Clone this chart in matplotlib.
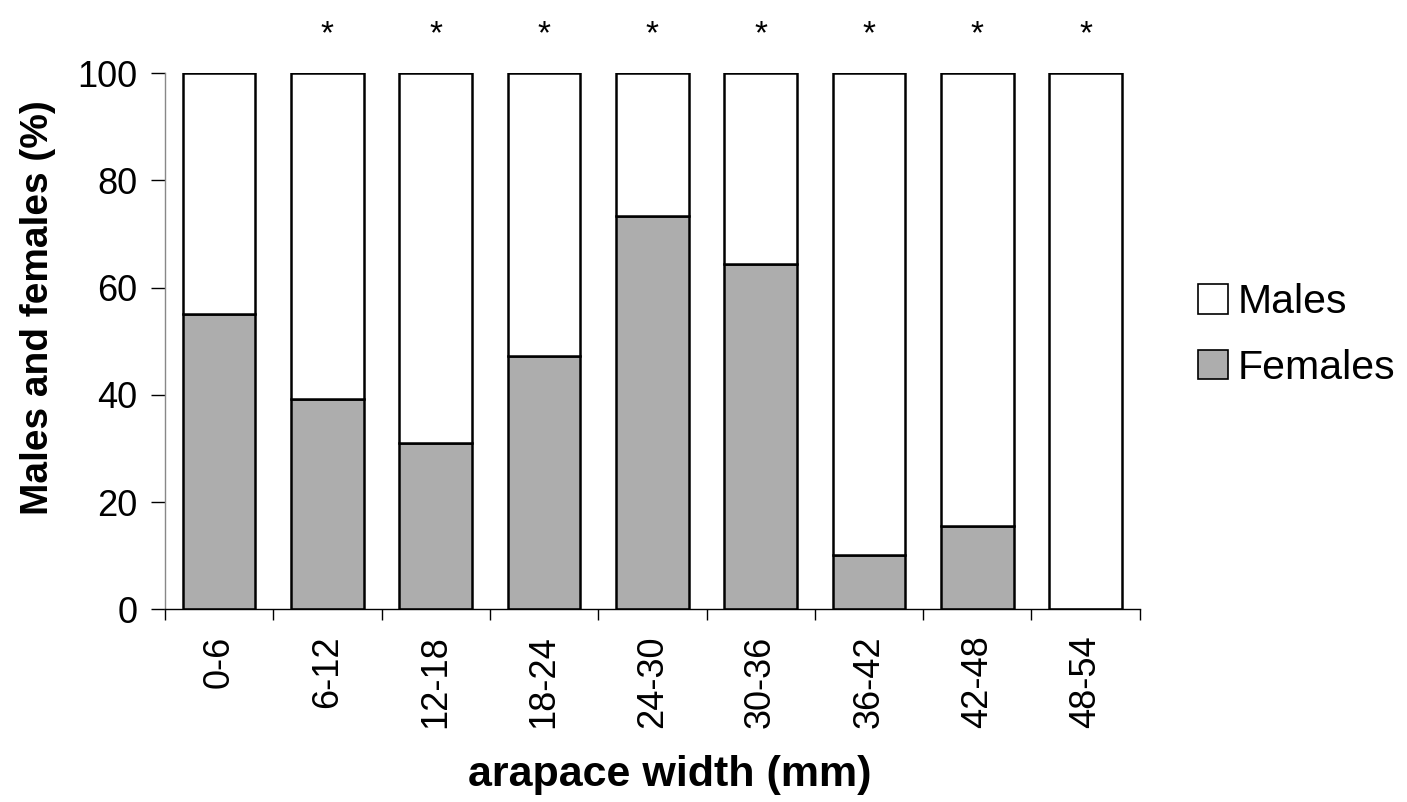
import matplotlib
matplotlib.use("Agg")
import matplotlib.pyplot as plt
import numpy as np

plt.rcParams['font.family'] = ['Liberation Sans', 'DejaVu Sans']

categories = ["0-6", "6-12", "12-18", "18-24", "24-30", "30-36", "36-42", "42-48", "48-54"]
females = [55, 39.3, 31, 47.2, 73.4, 64.5, 10.2, 15.5, 0]
males = [100 - f for f in females]
significant = [False, True, True, True, True, True, True, True, True]

fig = plt.figure(figsize=(14.07, 8.02), dpi=100)
ax = fig.add_axes([0.1173, 0.2403, 0.810 - 0.1173, 0.9086 - 0.2403])

x = np.arange(len(categories))
w = 0.67
bf = ax.bar(x, females, width=w, color='#adadad', edgecolor='black', linewidth=1.8, label='Females')
bm = ax.bar(x, males, width=w, bottom=females, color='white', edgecolor='black', linewidth=1.8, label='Males')

for xi, s in zip(x, significant):
    if s:
        ax.text(xi, 107.2, '*', ha='center', va='center', fontsize=24, clip_on=False)

ax.set_xlim(-0.5, len(categories) - 0.5)
ax.set_ylim(0, 100)
ax.set_yticks([0, 20, 40, 60, 80, 100])
ax.set_xticks(x)
ax.set_xticklabels(categories, rotation=90)
ax.set_xticks(np.arange(-0.5, len(categories)), minor=True)
ax.tick_params(axis='x', which='major', length=0, pad=19, labelsize=26)
ax.tick_params(axis='x', which='minor', length=8, width=1, direction='out')
ax.tick_params(axis='y', length=10, width=1, labelsize=26, pad=10, direction='out')

for s in ['top', 'right']:
    ax.spines[s].set_visible(False)
ax.spines['left'].set_color('#888888')
ax.spines['left'].set_linewidth(1)
ax.spines['bottom'].set_linewidth(1)

ax.set_ylabel('Males and females (%)', fontsize=28, fontweight='bold', va='center')
ax.yaxis.set_label_coords(-0.13, 0.562)
ax.set_xlabel('arapace width (mm)', fontsize=31, fontweight='bold', va='center')
ax.xaxis.set_label_coords(0.518, -0.309)

leg = ax.legend([bm, bf], ['Males', 'Females'], loc='center left',
                bbox_to_anchor=(0.837, 0.582), bbox_transform=fig.transFigure,
                frameon=False, fontsize=29.5, handlelength=0.72, handleheight=0.72,
                handletextpad=0.25, labelspacing=0.68, borderpad=0)
for h in leg.legend_handles:
    h.set_linewidth(1.2)

fig.savefig('out.png', dpi=100)
